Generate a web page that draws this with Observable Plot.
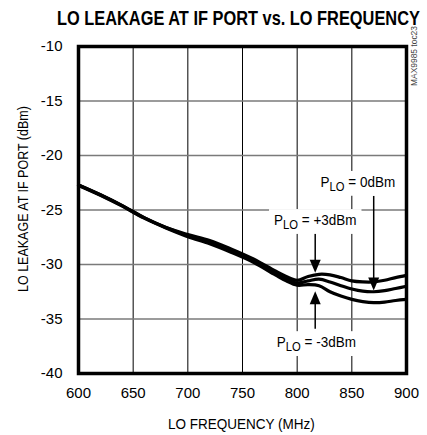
<!DOCTYPE html>
<html>
<head>
<meta charset="utf-8">
<script src="https://cdn.jsdelivr.net/npm/d3@7"></script>
<script src="https://cdn.jsdelivr.net/npm/@observablehq/plot@0.6"></script>
<style>
  html, body { margin: 0; padding: 0; background: #fff; }
  #chart { width: 427px; height: 435px; }
</style>
</head>
<body>
<div id="chart"></div>
<script>
// ---- data ----
const freq = [600, 620, 640, 660, 680, 700, 720, 740, 760, 780, 790, 800, 810, 820, 830, 840, 850, 860, 870, 880, 890, 900];
const plo3 = [-22.7, -23.6, -24.6, -25.7, -26.6, -27.25, -27.8, -28.6, -29.5, -30.6, -31.1, -31.45, -31.1, -30.9, -30.95, -31.2, -31.5, -31.6, -31.6, -31.45, -31.2, -31.0];
const plo0 = [-22.7, -23.6, -24.6, -25.7, -26.6, -27.35, -27.95, -28.75, -29.65, -30.8, -31.3, -31.7, -31.5, -31.35, -31.6, -31.95, -32.25, -32.45, -32.5, -32.4, -32.2, -32.0];
const ploM3 = [-22.75, -23.65, -24.65, -25.75, -26.65, -27.45, -28.1, -28.9, -29.8, -30.95, -31.5, -31.9, -31.85, -31.95, -32.5, -32.9, -33.2, -33.4, -33.5, -33.45, -33.3, -33.2];
const seriesNames = ["+3dBm", "0dBm", "-3dBm"];
const xTicks = [600, 650, 700, 750, 800, 850, 900];
const yTicks = [-40, -35, -30, -25, -20, -15, -10];
const xGridVals = [650, 700, 750, 800, 850];
const yGridVals = [-35, -30, -25, -20, -15];
// annotation arrows: x, tail y, tip y
const arrowX = [816.5, 870, 816.5];
const arrowFrom = [-27.1, -23.7, -35.9];
const arrowTo = [-30.75, -32.4, -32.45];
// label anchors (x, y in data units, baseline)
const labelText = ["+3dBm", "0dBm", "-3dBm"];
const labelX = [817, 856, 818];
const labelY = [-26.4, -22.9, -37.6];
const title = "LO LEAKAGE AT IF PORT vs. LO FREQUENCY";
const xLabel = "LO FREQUENCY (MHz)";
const yLabel = "LO LEAKAGE AT IF PORT (dBm)";
const watermark = "MAX9985 toc23";

const rows = [];
[plo3, plo0, ploM3].forEach((vals, i) => {
  vals.forEach((v, j) => rows.push({f: freq[j], v, s: seriesNames[i]}));
});
const arrows = arrowX.map((x, i) => ({x, y1: arrowFrom[i], y2: arrowTo[i], down: arrowTo[i] < arrowFrom[i]}));

const font = "'Liberation Sans', Arial, sans-serif";

// elongated filled triangle pointing up (rotated as needed)
const arrowHead = {
  draw(context, size) {
    const w = 5.5, h = 13;
    context.moveTo(0, -h / 2);
    context.lineTo(w, h / 2);
    context.lineTo(-w, h / 2);
    context.closePath();
  }
};

const plot = Plot.plot({
  width: 427,
  height: 435,
  marginLeft: 78,
  marginRight: 21,
  marginTop: 46,
  marginBottom: 62,
  x: {domain: [600, 900]},
  y: {domain: [-40, -10]},
  style: {fontFamily: font, fontSize: "15px", background: "#fff", color: "#000"},
  marks: [
    Plot.gridX(xGridVals, {stroke: "#000", strokeOpacity: 1, strokeWidth: 1}),
    Plot.gridY(yGridVals, {stroke: "#7a7a7a", strokeOpacity: 1, strokeWidth: 1.5}),
    Plot.axisX(xTicks, {tickSize: 0, tickPadding: 14, label: null, tickFormat: d => String(d), fontSize: 15}),
    Plot.axisY(yTicks, {tickSize: 0, tickPadding: 16, label: null, tickFormat: d => String(d), fontSize: 15}),
    Plot.line(rows, {x: "f", y: "v", z: "s", stroke: "#000", strokeWidth: 3.2, curve: "catmull-rom"}),
    Plot.link(arrows, {x1: "x", x2: "x", y1: "y1", y2: d => d.y2 + (d.down ? 0.9 : -0.9), stroke: "#000", strokeWidth: 1.5}),
    Plot.dot(arrows, {x: "x", y: d => d.y2 + (d.down ? 0.6 : -0.6), symbol: arrowHead, fill: "#000", stroke: "none", r: 5, rotate: d => d.down ? 180 : 0}),
    Plot.frame({stroke: "#000", strokeWidth: 3.5})
  ]
});

document.getElementById("chart").appendChild(plot);

const svg = d3.select(plot);
const sx = plot.scale("x"), sy = plot.scale("y");

// place a text so its natural width is squeezed horizontally to `width`
function fitted(parent, str, x, y, width, attrs, rotate) {
  const g = parent.append("g");
  const t = g.append("text").attr("x", 0).attr("y", 0).attr("text-anchor", "start")
    .attr("font-family", font);
  Object.entries(attrs).forEach(([k, v]) => t.attr(k, v));
  t.text(str);
  const w = t.node().getComputedTextLength();
  const k = Math.min(1, width / w);
  g.attr("transform", `translate(${x},${y})` + (rotate ? ` rotate(${rotate})` : "") + ` scale(${k},1)`);
  return g;
}

// labels with subscripts and white boxes breaking the grid
labelText.forEach((t, i) => {
  const cx = sx.apply(labelX[i]), cy = sy.apply(labelY[i]);
  const g = svg.append("g");
  const inner = g.append("g");
  const text = inner.append("text")
    .attr("x", 0).attr("y", 0)
    .attr("text-anchor", "middle")
    .attr("font-family", font).attr("font-size", 15).attr("fill", "#000");
  text.append("tspan").text("P");
  text.append("tspan").attr("font-size", 12.5).attr("dy", 4).text("LO");
  text.append("tspan").attr("dy", -4).text(" = " + t);
  inner.attr("transform", `translate(${cx},${cy}) scale(0.9,1)`);
  const bb = text.node().getBBox();
  const kx = 0.9;
  g.insert("rect", "g")
    .attr("x", cx + bb.x * kx - 5).attr("y", cy + bb.y - 2)
    .attr("width", bb.width * kx + 10).attr("height", bb.height + 4)
    .attr("fill", "#fff");
});

// title
fitted(svg, title, 57, 25, 363, {"font-weight": "bold", "font-size": 19.5});
// x label
fitted(svg, xLabel, 168, 429, 147, {"font-size": 15});
// y label
fitted(svg, yLabel, 28, 292, 186, {"font-size": 15}, -90);
// watermark
fitted(svg, watermark, 417, 86, 60, {"font-size": 9, "fill": "#444"}, -90);
</script>
</body>
</html>
